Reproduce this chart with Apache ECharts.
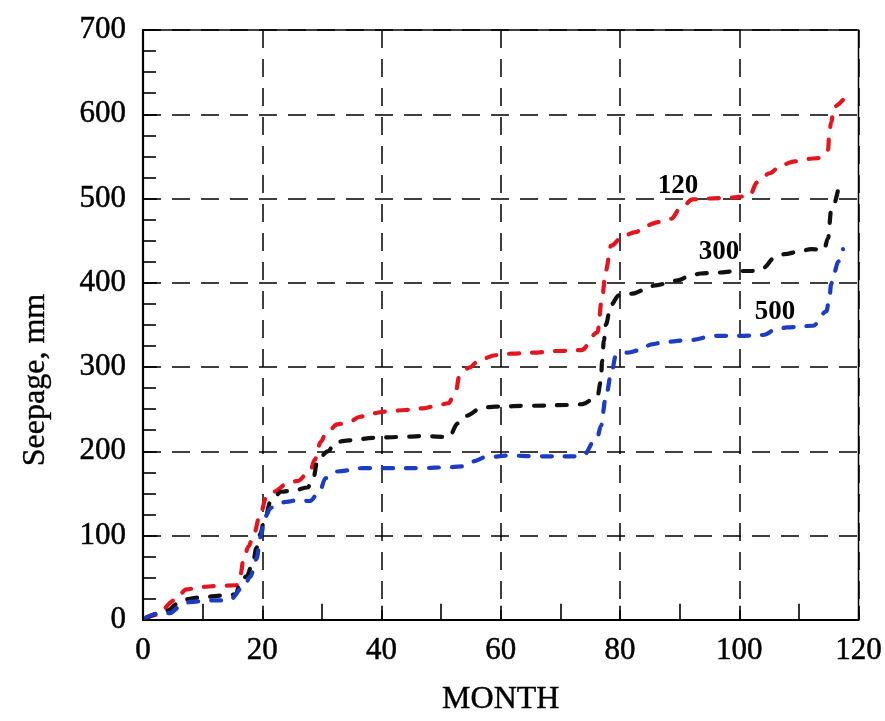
<!DOCTYPE html>
<html>
<head>
<meta charset="utf-8">
<script src="https://cdn.jsdelivr.net/npm/echarts@6/dist/echarts.min.js"></script>
<style>
html,body{margin:0;padding:0;background:#fff;}
#chart{width:885px;height:721px;}
</style>
</head>
<body>
<div id="chart"></div>
<script>
// X-axis ticks (months) and Y-axis ticks (seepage, mm)
const monthTicks = [0, 20, 40, 60, 80, 100, 120];
const seepageTicks = [0, 100, 200, 300, 400, 500, 600, 700];

// Curve labels
const curveNames = ['120', '300', '500'];

// Curve "120" (red)
const months120 = [0.5, 2.3, 5.3, 7.3, 9.5, 12.5, 15.7, 16.4, 16.8, 17.7, 18.5, 19.7, 20.7, 21.9, 24.3, 26, 28.1, 28.8, 29.8, 30.6, 32.6, 34.6, 36.4, 38.4, 40.6, 44, 47, 49.2, 51.2, 52.5, 53, 54.6, 56.6, 59.1, 62, 65.4, 69.4, 73.5, 76.2, 77, 77.6, 78.5, 80.6, 82.6, 84.4, 86.4, 88.6, 90, 92.2, 95, 98.3, 101.7, 103, 105.1, 107.1, 109.3, 111.3, 113.4, 114.9, 115.1, 115.4, 115.9, 117.4];
const seepage120 = [2, 6, 23, 36, 39, 40, 41, 55, 70, 87, 100, 126, 146, 152, 162, 165, 178, 190, 211, 220, 232, 235, 241, 245, 247, 249, 251, 254, 257, 272, 288, 299, 309, 314, 316, 317, 319, 320, 341, 382, 414, 444, 456, 460, 468, 472, 476, 487, 499, 500, 501, 503, 519, 530, 540, 544, 547, 548, 558, 578, 590, 609, 617];

// Curve "300" (black)
const months300 = [0.5, 4.1, 5.8, 7.8, 9.9, 14.1, 15.5, 16.4, 17.4, 18.5, 19, 19.7, 20.2, 21.5, 23.2, 25.5, 27.6, 28.5, 29.3, 31, 32.3, 34.6, 38.7, 42.9, 47, 51.3, 52.8, 54.1, 57, 59.1, 65, 71.9, 73.7, 76.2, 76.8, 77, 77.3, 77.6, 78.5, 79.8, 82, 83.9, 85.9, 87.7, 89.7, 91.4, 93.5, 95.9, 100, 102.2, 104.1, 105.8, 107.6, 110, 112.1, 114.2, 114.9, 115.4, 116.6];
const seepage300 = [2, 11, 19, 25, 27, 29, 30, 45, 52, 70, 85, 102, 114, 142, 152, 154, 157, 166, 190, 200, 211, 213, 216, 217, 218, 217, 233, 242, 252, 253, 254, 255, 256, 265, 283, 307, 331, 350, 374, 385, 387, 391, 397, 399, 403, 407, 411, 412, 414, 414, 418, 429, 434, 437, 440, 439, 453, 485, 511];

// Curve "500" (blue)
const months500 = [0.5, 2.3, 4.5, 6.1, 7.8, 11, 14.4, 16.9, 18, 19, 19.8, 20.4, 21.5, 24, 26, 28, 29.6, 30.6, 32.6, 36.8, 40.9, 47, 50.8, 53.6, 55.3, 57.5, 61.6, 65.7, 73.7, 76.2, 76.8, 77.6, 78.5, 79.3, 81.1, 83.4, 85.3, 87.6, 91.7, 95.9, 100, 104.1, 106, 108, 112.4, 114.6, 115.1, 115.4, 115.9, 116.6, 117.4];
const seepage500 = [3, 7, 8, 15, 21, 23, 23, 39, 51, 72, 100, 122, 133, 140, 142, 141, 152, 168, 176, 180, 180, 180, 181, 182, 188, 193, 195, 194, 194, 217, 230, 263, 291, 313, 317, 320, 327, 330, 332, 337, 337, 338, 344, 347, 349, 366, 380, 398, 412, 425, 440];

const zip = (xs, ys) => xs.map((x, i) => [x, ys[i]]);

const chart = echarts.init(document.getElementById('chart'), null, {renderer: 'canvas'});
const font = '"Liberation Serif", "Times New Roman", serif';

function curve(name, xs, ys, color) {
  return {
    name: name,
    type: 'line',
    data: zip(xs, ys),
    smooth: 0.35,
    smoothMonotone: 'x',
    showSymbol: false,
    symbol: 'none',
    lineStyle: {color: color, width: 4.2, type: [10, 13], cap: 'round', join: 'round'},
    z: 5
  };
}

const labelStyle = {fontFamily: font, fontSize: 31, color: '#000', textBorderColor: '#000', textBorderWidth: 0.5};

chart.setOption({
  animation: false,
  backgroundColor: '#ffffff',
  grid: {left: 143, right: 21, top: 30, bottom: 100, show: true, borderColor: '#000', borderWidth: 1.5, backgroundColor: 'transparent'},
  xAxis: {
    type: 'value', min: monthTicks[0], max: monthTicks[monthTicks.length - 1], interval: 20,
    name: 'MONTH', nameLocation: 'middle', nameGap: 64,
    nameTextStyle: {fontFamily: font, fontSize: 32, color: '#000', textBorderColor: '#000', textBorderWidth: 0.4},
    axisLine: {lineStyle: {color: '#000', width: 2.2}},
    axisTick: {inside: true, length: 14, lineStyle: {color: '#000', width: 1.6}},
    minorTick: {show: true, splitNumber: 2, length: 16, lineStyle: {color: '#000', width: 1.6}},
    axisLabel: Object.assign({margin: 16}, labelStyle),
    splitLine: {show: true, lineStyle: {color: '#000', width: 1.5, type: [18, 11]}}
  },
  yAxis: {
    type: 'value', min: seepageTicks[0], max: seepageTicks[seepageTicks.length - 1], interval: 100,
    axisLine: {lineStyle: {color: '#000', width: 2.2}},
    axisTick: {inside: true, length: 14, lineStyle: {color: '#000', width: 1.6}},
    minorTick: {show: true, splitNumber: 4, length: 13, lineStyle: {color: '#000', width: 1.6}},
    axisLabel: Object.assign({margin: 17}, labelStyle),
    splitLine: {show: true, lineStyle: {color: '#000', width: 1.5, type: [18, 11]}}
  },
  graphic: [
    {type: 'text', x: 36, y: 380, rotation: Math.PI / 2,
     style: {text: 'Seepage, mm', font: '32px ' + font, fill: '#000', stroke: '#000', lineWidth: 0.4, textAlign: 'center', textVerticalAlign: 'middle'}},
    {type: 'text', x: 678, y: 186, style: {text: curveNames[0], font: 'bold 27px ' + font, fill: '#000', textAlign: 'center', textVerticalAlign: 'middle'}},
    {type: 'text', x: 719, y: 252, style: {text: curveNames[1], font: 'bold 27px ' + font, fill: '#000', textAlign: 'center', textVerticalAlign: 'middle'}},
    {type: 'text', x: 775, y: 312, style: {text: curveNames[2], font: 'bold 27px ' + font, fill: '#000', textAlign: 'center', textVerticalAlign: 'middle'}}
  ],
  series: [
    curve(curveNames[0], months120, seepage120, '#e3161f'),
    curve(curveNames[1], months300, seepage300, '#111111'),
    curve(curveNames[2], months500, seepage500, '#1d3cc4')
  ]
});
</script>
</body>
</html>
